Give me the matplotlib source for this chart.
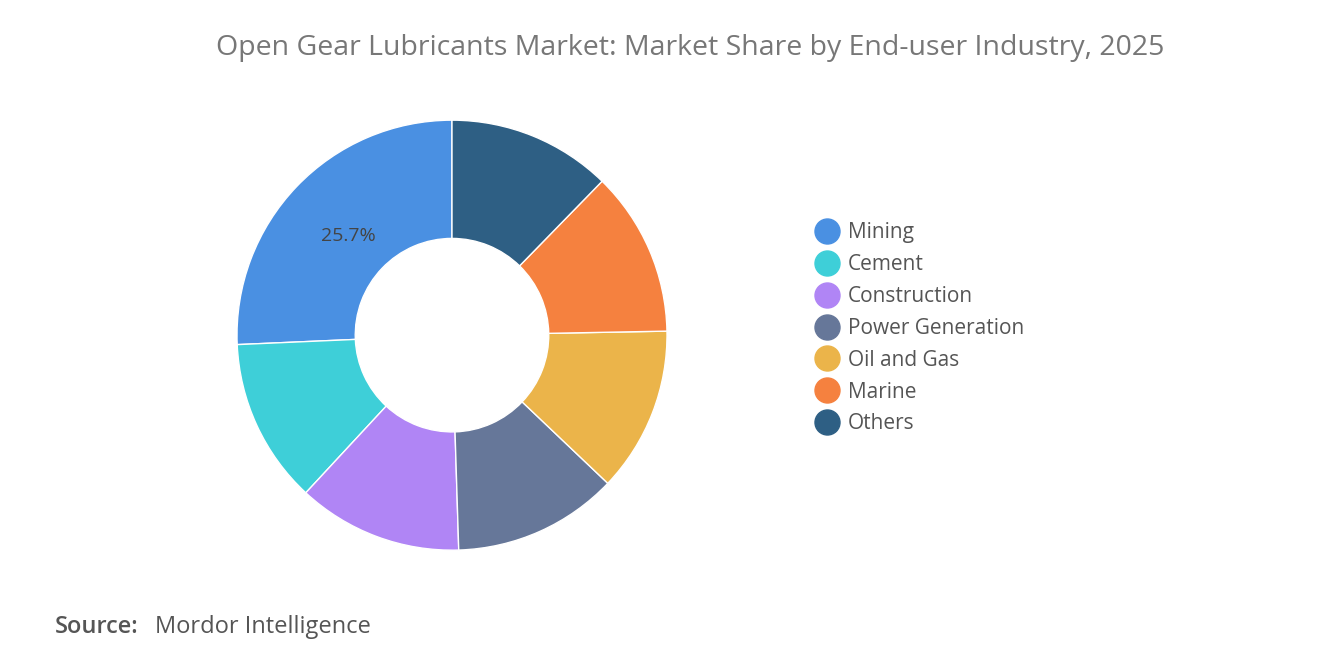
import numpy as np
import matplotlib
matplotlib.use('Agg')
import matplotlib.pyplot as plt

plt.rcParams['font.family'] = ['Open Sans', 'DejaVu Sans']

categories = ["Mining", "Cement", "Construction", "Power Generation", "Oil and Gas", "Marine", "Others"]
shares = [25.7, 12.4, 12.4, 12.4, 12.4, 12.4, 12.3]
colors = ["#4a90e2", "#3ecfd8", "#b085f5", "#667799", "#ebb44a", "#f5813f", "#2e5f84"]

fig = plt.figure(figsize=(13.2, 6.65), dpi=100)
ax = fig.add_axes([452 / 1320 - 215 / 1320, 0.496 - 215 / 665, 430 / 1320, 430 / 665])
wedges, _ = ax.pie(shares, colors=colors, startangle=90, counterclock=True,
                   wedgeprops=dict(width=0.55, edgecolor='white', linewidth=1))
ax.set_xlim(-1, 1)
ax.set_ylim(-1, 1)
ax.set_aspect('equal')

# label only the largest slice
mid = np.deg2rad(90 + shares[0] / sum(shares) * 360 / 2)
ax.text(0.67 * np.cos(mid), 0.67 * np.sin(mid), f"{shares[0]}%", ha='center', va='center',
        fontsize=14, color='#444444')

handles = [plt.Line2D([], [], marker='o', linestyle='', markersize=18, color=c) for c in colors]
fig.legend(handles, categories, loc='upper left', bbox_to_anchor=(798 / 1320, 1 - 214 / 665),
           frameon=False, fontsize=15, labelcolor='#555555', handletextpad=0.0,
           labelspacing=0.52, borderaxespad=0)

fig.text(690 / 1320, 1 - 48 / 665, "Open Gear Lubricants Market: Market Share by End-user Industry, 2025",
         ha='center', va='center', fontsize=20.5, color='#777777')
fig.text(55 / 1320, 1 - 627 / 665, "Source:", ha='left', va='center', fontsize=17,
         color='#555555', fontweight='semibold')
fig.text(155 / 1320, 1 - 627 / 665, "Mordor Intelligence", ha='left', va='center', fontsize=17,
         color='#555555')

fig.savefig("out.png", dpi=100, facecolor='white')
